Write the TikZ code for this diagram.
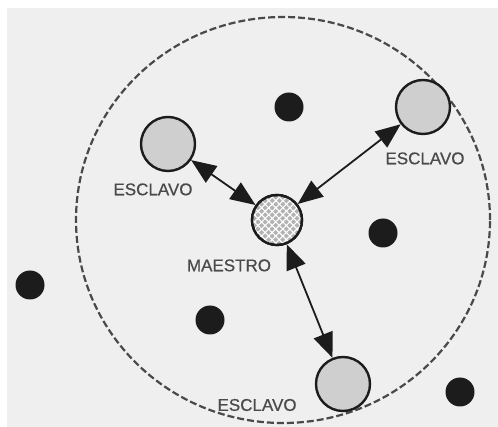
\documentclass[tikz,border=0pt]{standalone}
\usepackage{fontspec}
\setmainfont{Liberation Sans}
\newfontfamily\rotulofont[FakeBold=0.6]{Liberation Sans}
\usetikzlibrary{positioning,arrows.meta,patterns.meta}
\definecolor{fondo}{HTML}{EFEFEF}
\definecolor{tinta}{HTML}{1C1C1C}
\definecolor{rotulo}{HTML}{4A4A4A}

\begin{document}
\begin{tikzpicture}[x=1pt,y=-1pt,
  esclavo/.style={draw=tinta,circle,line width=2.4pt,fill=gray!38,minimum size=54pt,inner sep=0pt},
  maestro/.style={draw=tinta,circle,line width=2.4pt,fill=gray!60,minimum size=50pt,inner sep=0pt,
    postaction={pattern={Lines[angle=45,distance=5pt,line width=1.1pt]},pattern color=white},
    postaction={pattern={Lines[angle=-45,distance=5pt,line width=1.1pt]},pattern color=white},
    postaction={draw=tinta,line width=2.4pt}},
  punto/.style={circle,fill=tinta,minimum size=29pt,inner sep=0pt},
  etiqueta/.style={text=rotulo,font=\rotulofont\fontsize{17}{19}\selectfont,inner sep=0pt},
  punta/.tip={Triangle[length=25pt,width=20pt]},
  enlace/.style={punta-punta,draw=tinta,line width=1.8pt}]
\fill[white] (0,0) rectangle (498,427);
\fill[fondo] (7,8) rectangle (498,427);
\useasboundingbox (0,0) rectangle (498,427);
% zona de cobertura
\draw[draw=tinta!80,line width=2.2pt,dash pattern=on 7pt off 3pt] (283,220) ellipse [x radius=207pt,y radius=203pt];
\node[maestro] (maestro) at (277,220) {};
\node[esclavo] (esc1) at (168,144) {};
\node[esclavo] (esc2) at (423,107) {};
\node[esclavo] (esc3) at (343,384) {};
\node[punto] (p1) at (289,107) {};
\node[punto] (p2) at (383,233) {};
\node[punto] (p3) at (210,320) {};
\node[punto] (p4) at (30,285) {};
\node[punto] (p5) at (460,392) {};
\node[etiqueta,below=13pt of maestro,xshift=-48pt] (lmaestro) {MAESTRO};
\node[etiqueta,below=11pt of esc1,xshift=-15pt] (lesc1) {ESCLAVO};
\node[etiqueta,below=17pt of esc2,xshift=2pt] (lesc2) {ESCLAVO};
\node[etiqueta,left=18pt of esc3,yshift=-21pt] (lesc3) {ESCLAVO};
\draw[enlace] (esc1) -- (maestro);
\draw[enlace] (esc2) -- (maestro);
\draw[enlace] (maestro) -- (esc3);
\end{tikzpicture}
\end{document}
